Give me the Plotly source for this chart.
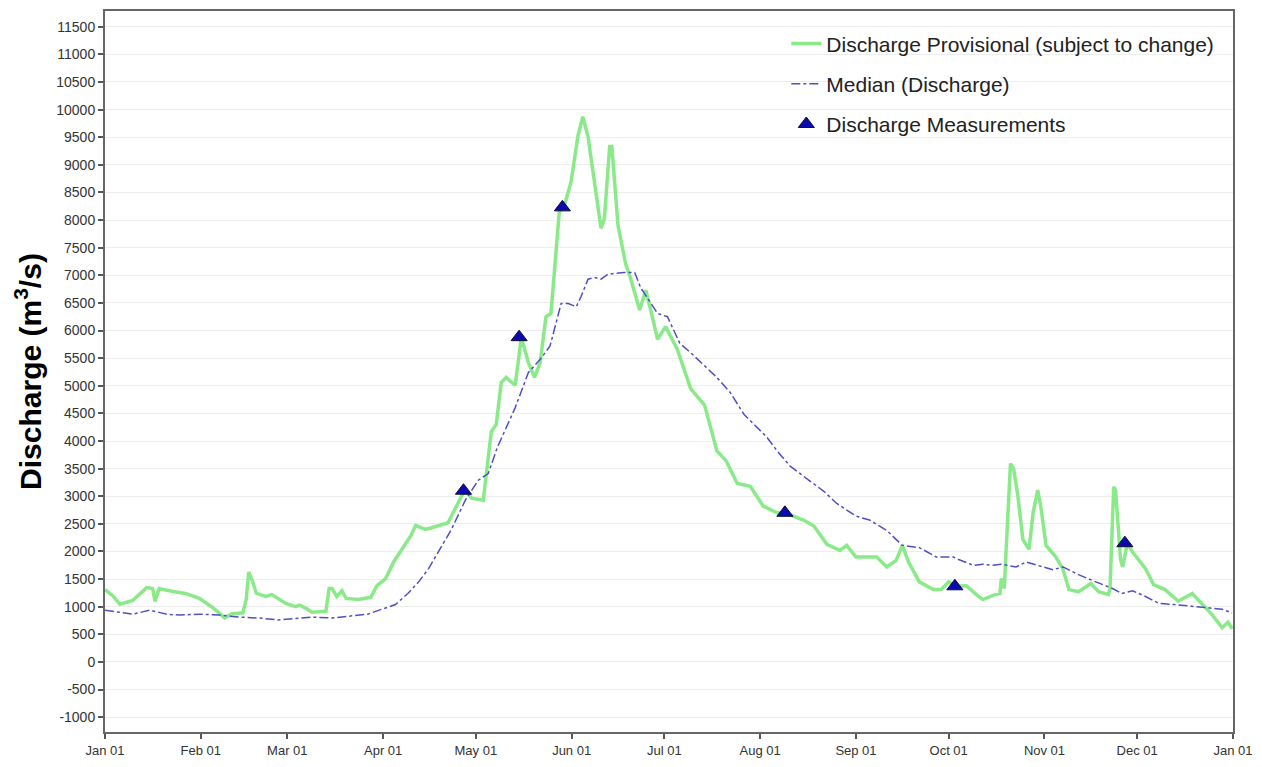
import pandas as pd
import plotly.graph_objects as go

YEAR_START = pd.Timestamp("2023-01-01")

# Provisional discharge (day offset from Jan 01, m3/s)
flow_day = [0, 2.5, 4.8, 9, 13.5, 15.4, 16.2, 17.5, 22, 26, 30.6, 35, 38.7, 41, 44.6, 45.7, 46.5,
            47.8, 49, 52, 54, 58.5, 61.7, 63, 65, 67, 71.5, 72.5, 73.5, 75, 76.7, 78, 82, 86, 88,
            90.8, 93.4, 96, 99, 100.5, 103.7, 105.7, 111, 115.3, 116.6, 118.6, 122.4, 123.4, 125,
            126.6, 128.2, 129.8, 132.7, 133.7, 134.7, 137, 139, 140.8, 142.7, 144.3, 146, 147,
            148.5, 150.8, 153, 154.6, 156.3, 158.5, 160.5, 161.6, 163.3, 164, 166, 168.5, 170,
            173, 175, 176.6, 178.8, 181.4, 185.2, 189.5, 194, 198, 201, 204.6, 208.8, 213, 217.5,
            220, 226, 229.4, 233.6, 237.8, 240, 243, 249.7, 253, 256, 258, 260, 263.5, 268, 270.6,
            273, 275, 278.7, 282, 284, 288, 289.6, 290, 291, 291.6, 293, 294, 295.4, 297, 299,
            300.3, 301.8, 302.8, 304.5, 307.7, 309.9, 311.9, 315, 319, 321.5, 324.7, 325.2, 326.4,
            327, 328.6, 329.3, 330.8, 332.5, 336.7, 339.3, 343, 347.3, 351.8, 355, 358, 361.5,
            363.4, 364.7]
flow_val = [1310, 1200, 1044, 1115, 1346, 1328, 1097, 1328, 1275, 1240, 1150, 980, 800, 870, 890,
            1130, 1630, 1450, 1240, 1185, 1220, 1060, 1000, 1030, 970, 900, 920, 1330, 1330, 1185,
            1290, 1150, 1130, 1170, 1380, 1510, 1810, 2020, 2290, 2470, 2400, 2430, 2520, 2995,
            3106, 2965, 2930, 3410, 4170, 4300, 5060, 5150, 5010, 5420, 5880, 5420, 5150, 5420,
            6250, 6310, 7500, 8150, 8230, 8690, 9510, 9870, 9510, 8690, 7850, 8030, 9330, 9330,
            7900, 7200, 6960, 6370, 6730, 6370, 5840, 6070, 5660, 4950, 4650, 3820, 3640, 3230,
            3180, 2820, 2700, 2700, 2570, 2460, 2130, 2020, 2110, 1900, 1900, 1720, 1840, 2110,
            1810, 1450, 1310, 1310, 1450, 1370, 1380, 1220, 1130, 1220, 1240, 1510, 1330, 2040,
            3590, 3500, 3000, 2220, 2040, 2700, 3110, 2820, 2110, 1900, 1690, 1310, 1270, 1420,
            1270, 1220, 1330, 3170, 3110, 1860, 1720, 2150, 1990, 1690, 1400, 1310, 1100, 1240,
            1040, 870, 620, 720, 600]

# Median daily discharge
median_day = [0, 4.8, 9, 14.5, 20, 24, 30.6, 37, 43.5, 50, 56, 63, 67, 73.5, 80, 85, 89.6, 94, 98,
              101.5, 104.7, 112, 116.6, 120.8, 124, 127, 132.7, 137, 141, 144, 147.6, 149.9, 152.5,
              154, 156.3, 158.5, 160.5, 162.7, 168, 171.4, 173.3, 176.6, 178.8, 182, 186, 189.5,
              194, 198, 202.3, 206.8, 210, 214, 217.5, 221.6, 228, 232.6, 236.8, 243, 247.4, 253,
              258, 263.5, 269, 274.5, 276, 281, 284, 287, 290, 294.8, 298, 302, 306.7, 310, 315,
              320.6, 326, 329, 332.5, 336.7, 341, 346, 351.8, 357, 361.5, 364.7]
median_val = [937, 900, 865, 937, 865, 848, 865, 848, 812, 795, 760, 795, 812, 795, 830, 865, 955,
              1040, 1240, 1450, 1690, 2390, 2930, 3290, 3410, 3890, 4600, 5240, 5490, 5720, 6490,
              6490, 6430, 6610, 6930, 6960, 6930, 7020, 7050, 7050, 6780, 6490, 6310, 6250, 5770,
              5600, 5360, 5150, 4880, 4480, 4300, 4080, 3820, 3550, 3280, 3090, 2870, 2640, 2570,
              2380, 2110, 2070, 1900, 1900, 1860, 1750, 1770, 1750, 1770, 1720, 1810, 1740, 1670,
              1720, 1580, 1450, 1330, 1240, 1290, 1185, 1060, 1040, 1010, 970, 955, 885]

# Field measurements
meas_day = [116, 134, 148, 220, 275, 330]
meas_val = [3100, 5880, 8230, 2700, 1370, 2150]

y_ticks = list(range(-1000, 11501, 500))


def to_dates(days):
    return YEAR_START + pd.to_timedelta(days, unit="D")


fig = go.Figure()
fig.add_trace(go.Scatter(
    x=to_dates(flow_day), y=flow_val, mode="lines",
    name="Discharge Provisional (subject to change)", legendgroup="a",
    line=dict(color="#8AEA8A", width=3.5),
))
fig.add_trace(go.Scatter(
    x=to_dates(median_day), y=median_val, mode="lines",
    name="Median (Discharge)", legendgroup="b",
    line=dict(color="#4F4FC4", width=1.5, dash="dashdot"),
))
fig.add_trace(go.Scatter(
    x=to_dates(meas_day), y=meas_val, mode="markers",
    name="Discharge Measurements", legendgroup="c",
    marker=dict(symbol="triangle-up", size=14, color="#0A0AB0",
                line=dict(color="#101030", width=1)),
))

fig.update_layout(
    width=1262, height=767,
    margin=dict(l=105, r=22, t=9, b=24),
    paper_bgcolor="white", plot_bgcolor="white",
    font=dict(family="Liberation Sans, Arial, sans-serif", color="#333333"),
    showlegend=True,
    legend=dict(
        x=0.604, y=0.983, xanchor="left", yanchor="top",
        bgcolor="rgba(255,255,255,0)", borderwidth=0,
        font=dict(size=21, color="#222222"),
        traceorder="grouped", tracegroupgap=10,
    ),
)

fig.update_xaxes(
    range=[YEAR_START, YEAR_START + pd.Timedelta(days=365)],
    tickformat="%b %d", dtick="M1", tick0=YEAR_START,
    ticks="outside", ticklen=5, tickwidth=1.5, tickcolor="#555555",
    tickfont=dict(size=13, color="#333333"),
    showline=True, linecolor="#666666", linewidth=2, mirror=True,
    showgrid=False, zeroline=False,
)
fig.update_yaxes(
    range=[-1268, 11785],
    tickvals=y_ticks, ticktext=[str(v) for v in y_ticks],
    ticks="outside", ticklen=5, tickwidth=1.5, tickcolor="#555555",
    tickfont=dict(size=14, color="#333333"),
    showline=True, linecolor="#666666", linewidth=2, mirror=True,
    showgrid=True, gridcolor="#EDEDED", gridwidth=1, zeroline=False,
    title=dict(text="<b>Discharge (m<sup>3</sup>/s)</b>",
               font=dict(size=30, color="#000000"), standoff=6),
)

fig.write_html("out.html")
